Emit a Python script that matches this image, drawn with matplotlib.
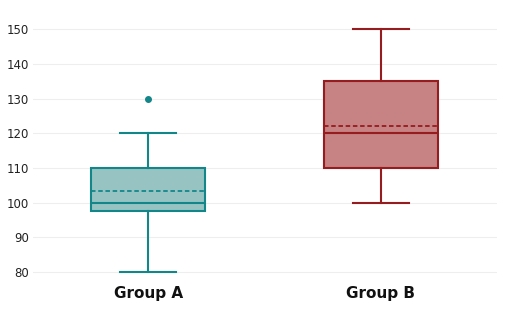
import matplotlib.pyplot as plt

groups = ['Group A', 'Group B']
whisker_low = [80, 100]
q1 = [97.5, 110]
median = [100, 120]
q3 = [110, 135]
whisker_high = [120, 150]
means = [103.3, 122.1]
outliers = [[130], []]

edge_colors = ['#13868a', '#961c1f']
fill_colors = ['#97c4c3', '#c78283']

fig = plt.figure(figsize=(5.1, 3.18), dpi=100)
ax = fig.add_axes([33 / 510, 0.112, 464 / 510, 0.829])

stats = []
for i, g in enumerate(groups):
    stats.append({'label': g, 'whislo': whisker_low[i], 'q1': q1[i], 'med': median[i],
                  'q3': q3[i], 'whishi': whisker_high[i], 'mean': means[i],
                  'fliers': outliers[i]})

for i, s in enumerate(stats):
    c = edge_colors[i]
    ax.bxp([s], positions=[i], widths=0.49, patch_artist=True, showmeans=True,
           meanline=True, manage_ticks=False,
           boxprops=dict(facecolor=fill_colors[i], edgecolor=c, linewidth=1.5),
           medianprops=dict(color=c, linewidth=1.5),
           meanprops=dict(color=c, linewidth=1.3, linestyle=(0, (2.5, 1.5))),
           whiskerprops=dict(color=c, linewidth=1.5),
           capprops=dict(color=c, linewidth=1.5),
           capwidths=0.24,
           flierprops=dict(marker='o', markersize=4, markerfacecolor=c,
                           markeredgecolor=c))

ax.set_xlim(-0.494, 1.498)
ax.set_ylim(77, 153)
ax.set_yticks(range(80, 151, 10))
ax.set_xticks([0, 1])
ax.set_xticklabels(groups, fontsize=11, fontweight='bold', color='#111111')
ax.tick_params(axis='y', labelsize=8.5, colors='#222222', length=0, pad=3)
ax.tick_params(axis='x', length=0, pad=2.7)
ax.grid(axis='y', color='#eeeeee', linewidth=0.8)
ax.set_axisbelow(True)
for sp in ax.spines.values():
    sp.set_visible(False)

fig.savefig('out.png', dpi=100)
